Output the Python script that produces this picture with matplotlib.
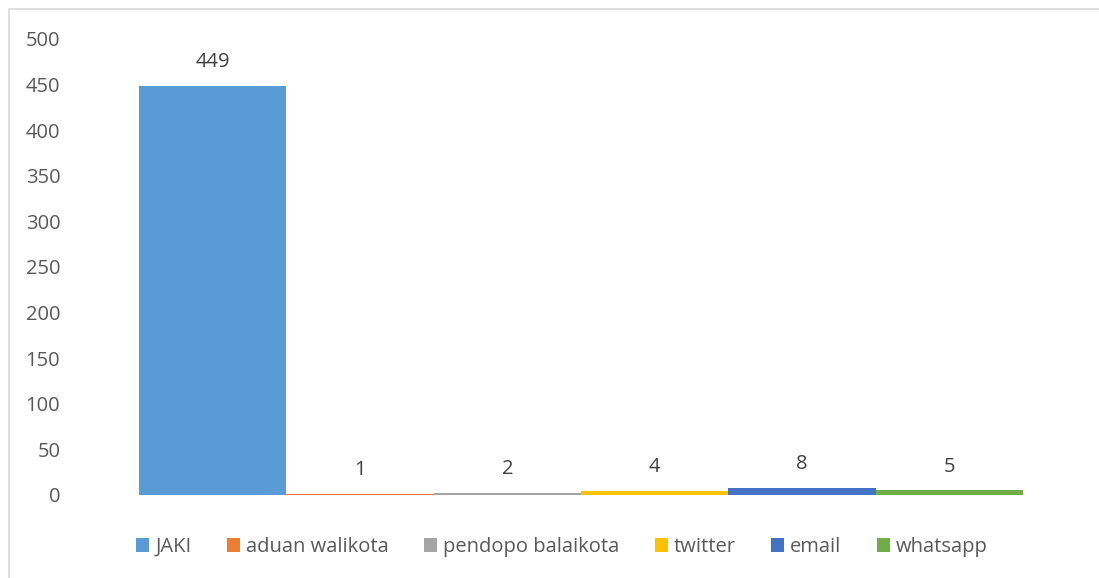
import matplotlib.pyplot as plt
import numpy as np
from matplotlib.patches import Rectangle

# Sumber pengaduan dan jumlahnya
channels = ['JAKI', 'aduan walikota', 'pendopo balaikota', 'twitter', 'email', 'whatsapp']
counts = [449, 1, 2, 4, 8, 5]
colors = ['#5B9BD5', '#ED7D31', '#A5A5A5', '#FFC000', '#4472C4', '#70AD47']
y_ticks = np.arange(0, 501, 50)

plt.rcParams['font.family'] = ['Open Sans', 'DejaVu Sans']

fig = plt.figure(figsize=(10.99, 5.78), dpi=100)
ax = fig.add_axes([70 / 1099, 83 / 578, 1022 / 1099, 456 / 578])

# Light gray chart border (right/bottom edges fall off the picture)
fig.patches.append(Rectangle((9 / 1099, -0.02), 1.1, 0.02 + 569 / 578,
                             transform=fig.transFigure, fill=False,
                             edgecolor='#D9D9D9', linewidth=1.2))

x = np.arange(len(channels))
handles = []
for i, (name, val, col) in enumerate(zip(channels, counts, colors)):
    bars = ax.bar(x[i], val, width=1.0, color=col, label=name)
    ax.bar_label(bars, labels=[str(val)], padding=10, fontsize=14.5, color='#404040')
    handles.append(bars)

half = 1022 / 147.3 / 2
ax.set_xlim(2.5 - half, 2.5 + half)
ax.set_ylim(0, 500)
ax.set_yticks(y_ticks)
ax.set_xticks([])
ax.tick_params(axis='y', length=0, pad=7, labelsize=14.5, labelcolor='#595959')
for s in ax.spines.values():
    s.set_visible(False)

fig.legend(handles=handles, loc='center', bbox_to_anchor=(562 / 1099, 31 / 578),
           ncols=6, frameon=False, fontsize=14.5, labelcolor='#595959',
           handlelength=0.65, handleheight=0.65, handletextpad=0.3,
           columnspacing=1.75)

plt.savefig('out.png', dpi=100)
